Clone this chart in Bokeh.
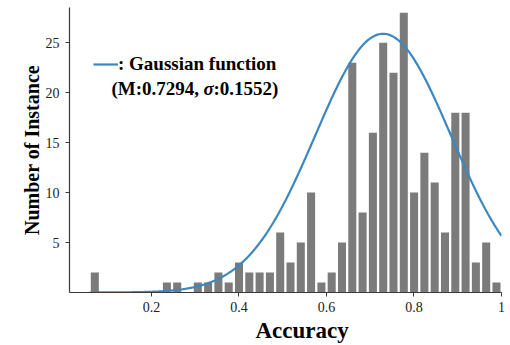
import numpy as np
from bokeh.plotting import figure
from bokeh.models import ColumnDataSource, Range1d, FixedTicker, Label, Legend, LegendItem, Title
from bokeh.embed import file_html
from bokeh.resources import INLINE

# ---- data -------------------------------------------------------------
bin_start = 0.0587
bin_width = 0.02354
counts = [2, 0, 0, 0, 0, 0, 0, 1, 1, 0,
          1, 1, 2, 1, 3, 2, 2, 2, 6, 3,
          5, 10, 1, 2, 5, 23, 8, 16, 25, 22,
          28, 10, 14, 11, 6, 18, 18, 3, 5, 1]
gauss_mean = 0.7294
gauss_sigma = 0.1552
gauss_peak = 25.9
x_ticks = [0.2, 0.4, 0.6, 0.8, 1.0]
x_tick_labels = ["0.2", "0.4", "0.6", "0.8", "1"]
y_ticks = [5, 10, 15, 20, 25]

centers = [bin_start + bin_width * (i + 0.5) for i in range(len(counts))]
bars = ColumnDataSource(dict(x=centers, top=counts))

curve_x = np.linspace(bin_start, 1.0, 300)
curve_y = gauss_peak * np.exp(-(curve_x - gauss_mean) ** 2 / (2 * gauss_sigma ** 2))

SERIF = "Liberation Serif"
AX = "#3a3a3a"
BAR = "#7b7b7b"
BLUE = "#3b87c0"

p = figure(frame_width=432, frame_height=285, output_backend="svg", toolbar_location=None,
           x_range=Range1d(0.0126, 1.0), y_range=Range1d(0, 28.53),
           min_border_left=69, min_border_right=4, min_border_top=7, min_border_bottom=20)
p.outline_line_color = None
p.grid.visible = False
p.background_fill_color = "white"

p.vbar(x="x", top="top", width=bin_width * 0.78, source=bars, fill_color=BAR, line_color=None)
curve = p.line(curve_x, curve_y, line_color=BLUE, line_width=2.2)

# axes
for ax in (p.xaxis[0], p.yaxis[0]):
    ax.axis_line_color = AX
    ax.axis_line_width = 1.2
    ax.major_tick_line_color = AX
    ax.major_tick_in = 0
    ax.major_tick_out = 4
    ax.minor_tick_line_color = None
    ax.major_label_text_font = SERIF
    ax.major_label_text_font_size = "14px"
    ax.major_label_text_color = "#222222"

p.xaxis.ticker = FixedTicker(ticks=x_ticks)
p.xaxis.major_label_overrides = {t: l for t, l in zip(x_ticks, x_tick_labels)}
p.xaxis.major_label_standoff = 5
p.yaxis.ticker = FixedTicker(ticks=y_ticks)
p.yaxis.major_label_standoff = 6

p.yaxis.axis_label = "Number of Instance"
p.yaxis.axis_label_text_font = SERIF
p.yaxis.axis_label_text_font_style = "bold"
p.yaxis.axis_label_text_font_size = "20px"
p.yaxis.axis_label_text_color = "black"
p.yaxis.axis_label_standoff = 0

# x-axis label, placed below the axis (shifted right like the reference)
p.add_layout(Title(text="Accuracy", align="left", offset=186, standoff=3,
                   text_font=SERIF, text_font_style="bold", text_font_size="23px",
                   text_color="black"), "below")

# legend
legend = Legend(items=[LegendItem(label=": Gaussian function", renderers=[curve])],
                location=(24, 217), padding=0, margin=0, glyph_width=25, glyph_height=18,
                label_standoff=0, background_fill_alpha=0, border_line_color=None,
                label_text_font=SERIF, label_text_font_style="bold",
                label_text_font_size="19px", label_text_color="black")
p.add_layout(legend)

ly = 20.4
lx = 0.1086
p.add_layout(Label(x=lx, y=ly, text="(M:0.7294,", text_font=SERIF, text_font_style="bold",
                   text_font_size="19px", text_baseline="middle", text_color="black"))
p.add_layout(Label(x=lx, y=ly, x_offset=92, text="\u03c3", text_font=SERIF,
                   text_font_style="bold italic", text_font_size="19px",
                   text_baseline="middle", text_color="black"))
p.add_layout(Label(x=lx, y=ly, x_offset=102, text=":0.1552)", text_font=SERIF,
                   text_font_style="bold", text_font_size="19px",
                   text_baseline="middle", text_color="black"))

open("out.html", "w").write(file_html(p, INLINE))
